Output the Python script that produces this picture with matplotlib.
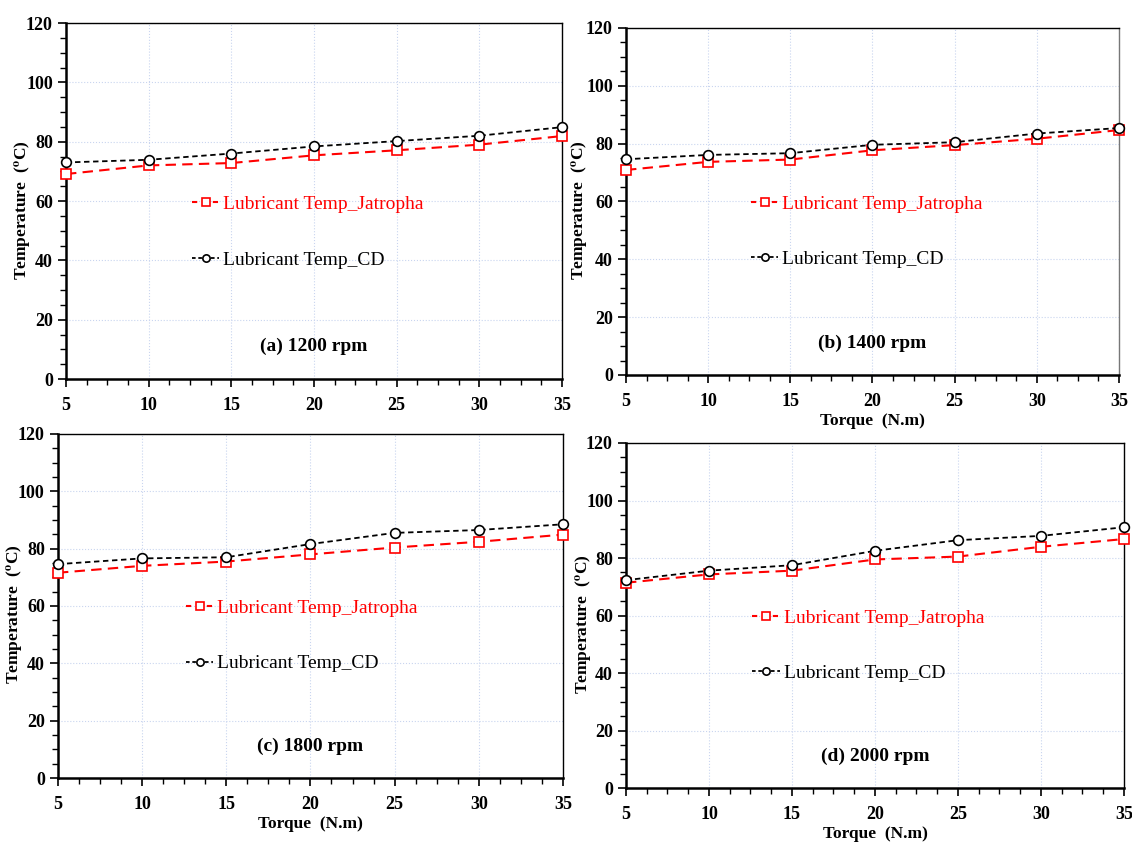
import matplotlib
matplotlib.use("Agg")
import matplotlib.pyplot as plt
from matplotlib.ticker import MultipleLocator, AutoMinorLocator

plt.rcParams['font.family'] = ['Liberation Serif', 'DejaVu Serif']
plt.rcParams['mathtext.fontset'] = 'stix'

torque = [5, 10, 15, 20, 25, 30, 35]

a_jat = [69.1, 72.0, 72.8, 75.4, 77.1, 79.0, 81.9]
a_cd = [73.0, 73.9, 76.0, 78.4, 80.2, 82.0, 84.9]
b_jat = [70.9, 73.7, 74.5, 77.7, 79.5, 81.7, 84.7]
b_cd = [74.6, 76.1, 76.7, 79.6, 80.5, 83.5, 85.4]
c_jat = [71.6, 74.0, 75.5, 78.0, 80.4, 82.4, 84.9]
c_cd = [74.6, 76.6, 77.0, 81.6, 85.5, 86.5, 88.5]
d_jat = [71.4, 74.3, 75.6, 79.5, 80.5, 83.9, 86.6]
d_cd = [72.3, 75.6, 77.5, 82.5, 86.2, 87.7, 90.7]

titles = ['(a) 1200 rpm', '(b) 1400 rpm', '(c) 1800 rpm', '(d) 2000 rpm']
jat_label = 'Lubricant Temp_Jatropha'
cd_label = 'Lubricant Temp_CD'

fig = plt.figure(figsize=(11.32, 8.43), dpi=100)

boxes = [
    [0.0583, 0.5504, 0.4382, 0.4223],
    [0.5530, 0.5552, 0.4355, 0.4116],
    [0.0512, 0.0771, 0.4461, 0.4081],
    [0.5530, 0.0652, 0.4399, 0.4093],
]
ylab_x = [-0.067, -0.073, -0.065, -0.064]
panels = [(a_jat, a_cd), (b_jat, b_cd), (c_jat, c_cd), (d_jat, d_cd)]

for i, (box, (jat, cd), title) in enumerate(zip(boxes, panels, titles)):
    ax = fig.add_axes(box)
    ax.plot(torque, jat, color='red', ls=(0, (5, 3)), lw=1.5, marker='s',
            ms=7, mfc='white', mec='red', mew=1.2, clip_on=False,
            label=jat_label, zorder=3)
    ax.plot(torque, cd, color='black', ls=(0, (3, 2)), lw=1.3, marker='o',
            ms=7, mfc='white', mec='black', mew=1.2, clip_on=False,
            label=cd_label, zorder=4)

    ax.set_xlim(5, 35)
    ax.set_ylim(0, 120)
    ax.xaxis.set_major_locator(MultipleLocator(5))
    ax.xaxis.set_minor_locator(AutoMinorLocator(4))
    ax.yaxis.set_major_locator(MultipleLocator(20))
    ax.yaxis.set_minor_locator(AutoMinorLocator(4))
    ax.grid(True, which='major', color='#c9d5ef', ls=':', lw=0.8)
    ax.set_axisbelow(True)

    for s in ['left', 'bottom']:
        ax.spines[s].set_linewidth(1.8)
    for s in ['top', 'right']:
        ax.spines[s].set_linewidth(1.0)
    if i == 1:
        ax.spines['right'].set_color('#777777')

    ax.tick_params(which='major', direction='out', length=6, width=1.2,
                   labelsize=13, top=False, right=False)
    ax.tick_params(axis='x', which='major', pad=7)
    ax.tick_params(which='minor', direction='out', length=4, width=1.0,
                   top=False, right=False)
    for lab in ax.get_xticklabels() + ax.get_yticklabels():
        lab.set_fontweight('bold')

    ax.set_ylabel(r'Temperature  ($\mathbf{^{o}}$C)', fontsize=12.5,
                  fontweight='bold')
    ax.yaxis.set_label_coords(ylab_x[i], 0.475)
    if i > 0:
        ax.set_xlabel('Torque  (N.m)', fontsize=12.5, fontweight='bold',
                      labelpad=2)

    ax.text(20, 11, title, ha='center', va='center', fontsize=14,
            fontweight='bold')

    leg = ax.legend(loc='center left', bbox_to_anchor=(0.254, 0.413),
                    frameon=False, fontsize=14, handlelength=1.4,
                    handletextpad=0.2, labelspacing=1.95, borderpad=0,
                    borderaxespad=0, markerscale=0.75)
    leg.get_texts()[0].set_color('red')
    leg.legend_handles[0].set_linestyle((0, (2.5, 2.5)))
    leg.legend_handles[1].set_linestyle((0, (2, 1.5)))

fig.savefig('out.png', dpi=100)
